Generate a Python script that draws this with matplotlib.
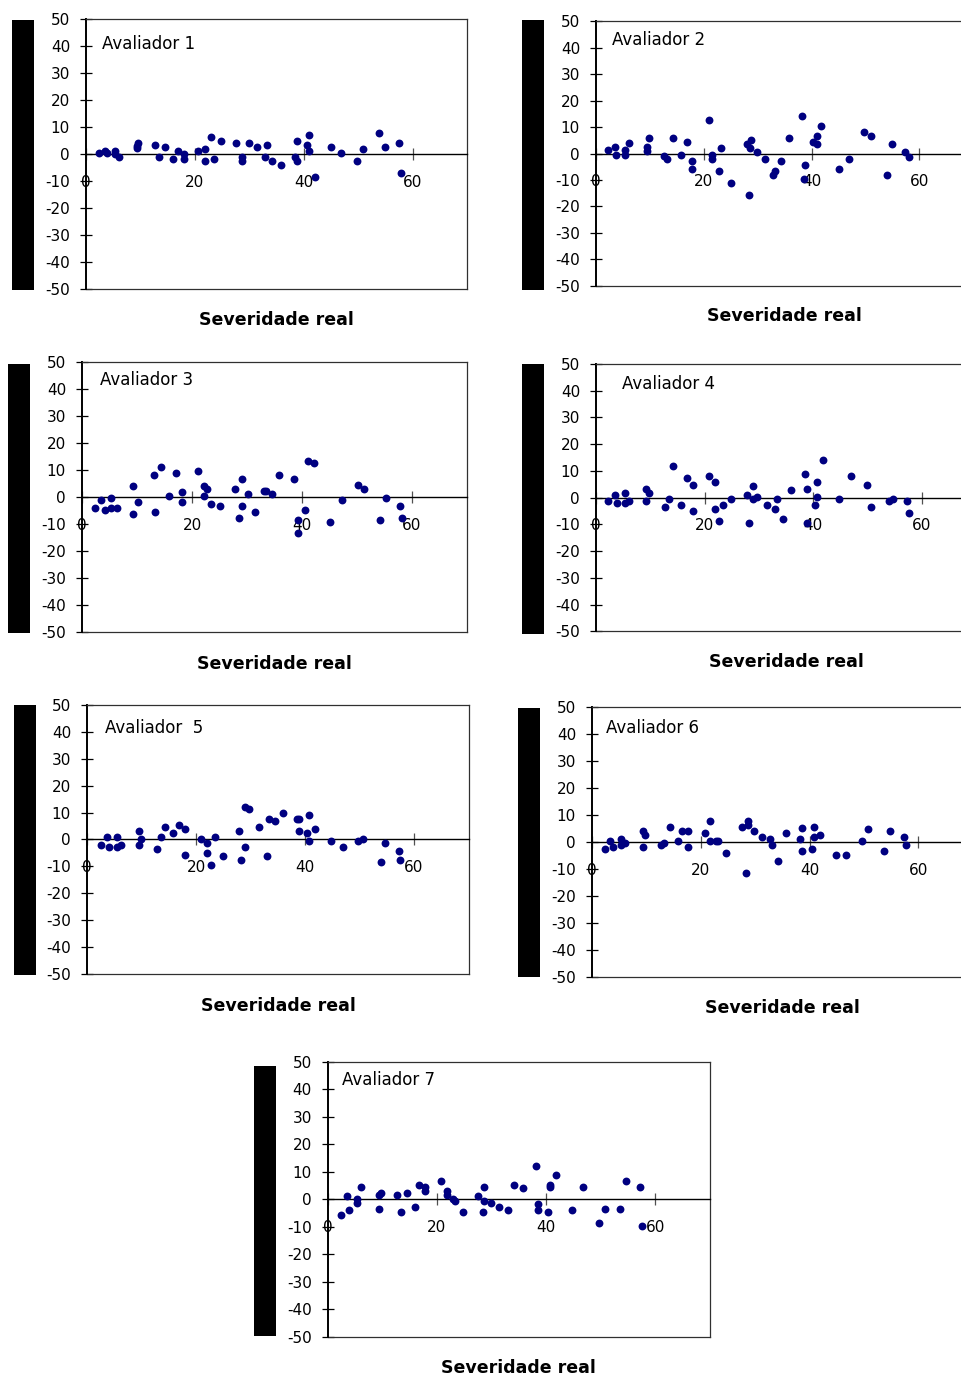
import matplotlib
matplotlib.use("Agg")
import matplotlib.pyplot as plt
from matplotlib.patches import Rectangle

# Severidade real (x) e diferença estimada - real (y), por avaliador
sev1 = [2.3, 3.5, 3.8, 5.3, 5.3, 6.1, 9.3, 9.4, 9.6, 12.7, 13.4, 14.5, 16.0, 16.8, 17.9, 17.9,
        20.6, 21.8, 21.8, 22.9, 23.4, 24.8, 27.6, 28.7, 28.7, 29.9, 31.3, 32.8, 33.2, 34.2, 35.7,
        38.3, 38.7, 38.8, 40.5, 40.9, 40.9, 42.0, 45.0, 46.8, 49.7, 50.8, 53.8, 54.9, 57.4, 57.8]
dif1 = [0.5, 1.2, 0.5, 1.2, 0.0, -1.1, 2.1, 3.0, 4.2, 3.3, -1.1, 2.6, -1.9, 1.2, 0.0, -1.9,
        1.2, 2.0, -2.6, 6.3, -1.9, 4.9, 4.2, -1.1, -2.6, 4.1, 2.6, -1.1, 3.3, -2.6, -4.1,
        -1.1, 4.9, -2.6, 3.3, 7.2, 1.2, -8.5, 2.6, 0.5, -2.6, 1.9, 7.9, 2.6, 4.1, -6.9]

sev2 = [2.3, 3.5, 3.8, 5.4, 5.4, 6.1, 9.4, 9.4, 9.8, 12.7, 13.1, 14.2, 15.8, 16.9, 17.9, 17.9,
        20.9, 21.6, 21.6, 23.1, 22.8, 25.0, 28.0, 28.8, 28.6, 28.3, 29.9, 31.4, 32.8, 33.3, 34.3,
        35.8, 38.3, 38.7, 38.5, 40.2, 41.0, 41.0, 41.7, 45.0, 46.9, 49.8, 51.0, 53.9, 55.0, 57.3, 58.0]
dif2 = [1.2, 2.6, -0.4, 1.2, -0.4, 4.1, 2.6, 1.0, 5.8, -0.9, -2.1, 5.8, -0.4, 4.2, -2.7, -5.8,
        12.6, -0.4, -2.1, 1.9, -6.7, -11.2, 3.5, 5.0, 2.2, -15.8, 0.4, -1.9, -8.1, -6.7, -2.8,
        5.8, 14.2, -4.2, -9.5, 4.2, 6.5, 3.5, 10.3, -5.8, -1.9, 8.1, 6.5, -8.1, 3.5, 0.4, -1.2]

sev3 = [2.4, 3.5, 4.2, 5.3, 5.3, 6.4, 9.3, 10.1, 9.3, 13.0, 14.4, 13.3, 15.9, 17.0, 18.1, 18.1,
        21.0, 22.1, 22.8, 22.1, 23.5, 25.0, 27.9, 29.0, 28.6, 29.0, 30.1, 31.5, 33.0, 33.4, 34.5,
        35.9, 38.5, 39.2, 39.2, 40.6, 41.0, 42.1, 45.0, 47.2, 50.1, 51.2, 54.1, 55.2, 57.8, 58.1]
dif3 = [-4.1, -1.2, -4.8, -0.5, -4.1, -4.1, 3.9, -1.9, -6.3, 8.2, 11.1, -5.5, 0.2, 8.9, 1.7, -1.9,
        9.6, 3.9, 3.1, 0.2, -2.7, -3.4, 3.1, 6.7, -7.7, -3.4, 1.0, -5.5, 2.4, 2.4, 1.0,
        8.2, 6.7, -8.4, -13.5, -4.8, 13.3, 12.5, -9.2, -1.2, 4.6, 3.1, -8.4, -0.5, -3.4, -7.7]

sev4 = [2.3, 3.5, 3.8, 5.3, 5.3, 6.1, 9.3, 9.8, 9.3, 12.7, 13.5, 14.1, 15.7, 16.8, 17.8, 17.8,
        20.8, 21.9, 21.9, 22.6, 23.3, 24.8, 27.8, 28.1, 28.9, 28.9, 29.6, 31.4, 32.9, 33.3, 34.4,
        35.9, 38.5, 38.8, 38.8, 40.3, 40.7, 40.7, 41.8, 44.7, 46.9, 49.9, 50.6, 53.9, 54.7, 57.2, 57.6]
dif4 = [-1.1, 1.1, -1.9, 1.9, -1.9, -1.1, 3.4, 1.9, -1.1, -3.4, -0.4, 11.8, -2.7, 7.2, 4.9, -4.9,
        8.0, 5.7, -4.2, -8.9, -2.7, -0.4, 1.1, -9.5, 4.2, -0.4, 0.4, -2.7, -4.2, -0.4, -8.0,
        2.7, 8.7, 3.4, -9.5, -2.7, 5.7, 0.4, 14.1, -0.4, 8.0, 4.9, -3.4, -1.1, -0.4, -1.1, -5.7]

sev5 = [2.6, 3.7, 4.0, 5.5, 5.5, 6.2, 9.5, 9.9, 9.5, 12.8, 13.6, 14.3, 15.8, 16.9, 18.0, 18.0,
        20.9, 22.0, 22.0, 22.7, 23.5, 24.9, 27.9, 28.2, 29.0, 29.0, 29.7, 31.5, 33.0, 33.4, 34.5,
        35.9, 38.5, 38.9, 38.9, 40.3, 40.7, 40.7, 41.8, 44.7, 46.9, 49.8, 50.6, 53.9, 54.6, 57.2, 57.5]
dif5 = [-2.0, 1.0, -2.7, 1.0, -2.7, -2.0, 3.2, 0.2, -2.0, -3.4, 1.0, 4.6, 2.4, 5.4, 3.9, -5.6,
        0.2, -1.2, -4.9, -9.3, 1.0, -6.3, 3.2, -7.8, -2.7, 12.0, 11.2, 4.6, -6.3, 7.6, 6.8,
        9.8, 7.6, 7.6, 3.2, 2.4, 9.0, -0.5, 3.9, -0.5, -2.7, -0.5, 0.2, -8.5, -1.2, -4.1, -7.8]

sev6 = [2.3, 3.4, 3.8, 5.3, 5.3, 6.0, 9.3, 9.7, 9.3, 12.6, 13.3, 14.4, 15.9, 16.6, 17.7, 17.7,
        20.7, 21.7, 21.7, 22.8, 23.2, 24.7, 27.6, 28.7, 28.7, 28.3, 29.8, 31.3, 32.7, 33.1, 34.2,
        35.7, 38.2, 38.6, 38.6, 40.4, 40.8, 40.8, 41.9, 44.8, 46.7, 49.6, 50.7, 53.6, 54.7, 57.3, 57.7]
dif6 = [-2.6, 0.4, -1.9, 1.1, -1.1, -0.4, 4.1, 2.6, -1.9, -1.1, -0.4, 5.6, 0.4, 4.1, 4.1, -1.9,
        3.3, 7.8, 0.4, 0.4, 0.4, -4.1, 5.6, 7.8, 6.3, -11.5, 4.1, 1.9, 1.1, -1.1, -7.0,
        3.3, 1.1, 5.2, -3.3, -2.6, 5.6, 1.9, 2.6, -4.8, -4.8, 0.4, 4.8, -3.3, 4.1, 1.9, -1.1]

sev7 = [2.4, 3.5, 3.9, 5.4, 5.4, 6.1, 9.4, 9.7, 9.4, 12.7, 13.4, 14.5, 16.0, 16.7, 17.8, 17.8,
        20.7, 21.8, 21.8, 22.9, 23.3, 24.7, 27.6, 28.4, 28.7, 28.7, 29.9, 31.3, 33.1, 34.2, 35.7,
        38.2, 38.6, 38.6, 40.4, 40.8, 40.8, 41.9, 44.8, 46.7, 49.6, 50.7, 53.6, 54.7, 57.2, 57.6]
dif7 = [-5.6, 1.0, -4.1, 0.2, -1.2, 4.6, 1.7, 2.4, -3.4, 1.7, -4.8, 2.4, -2.7, 5.3, 4.6, 3.1,
        6.8, 3.1, 1.7, 0.2, -0.5, -4.8, 1.0, -4.8, 4.6, -0.5, -1.2, -2.7, -4.1, 5.3, 3.9,
        11.9, -1.9, -4.1, -4.8, 5.3, 4.6, 8.9, -4.1, 4.6, -8.5, -3.4, -3.4, 6.8, 4.6, -9.9]

titles = ["Avaliador 1", "Avaliador 2", "Avaliador 3", "Avaliador 4",
          "Avaliador  5", "Avaliador 6", "Avaliador 7"]
xticks = [0, 20, 40, 60]
yticks = [50, 40, 30, 20, 10, 0, -10, -20, -30, -40, -50]
xlabel = "Severidade real"

series = [(sev1, dif1), (sev2, dif2), (sev3, dif3), (sev4, dif4),
          (sev5, dif5), (sev6, dif6), (sev7, dif7)]

# layout em pixels: esquerda, topo, base, px por unidade x
boxes = [(86, 19.3, 289, 5.45), (596, 21.3, 285.7, 5.39),
         (82, 362, 632, 5.5), (596, 364, 631.3, 5.43),
         (87, 705, 974, 5.45), (592, 707.3, 977.3, 5.44),
         (327.7, 1061.7, 1336.7, 5.46)]
title_off = [(16, 25), (16, 19), (18, 18), (26, 20), (18, 23), (14, 21), (14, 18)]
bars = [(12, 20, 34, 290), (522, 20, 544, 290), (8, 364, 30, 633), (522, 364, 544, 634),
        (14, 705, 36, 975), (518, 708, 540, 977), (254, 1066, 276, 1336)]
xlab_pos = [(276, 320), (784, 316), (274, 664), (786, 662), (278, 1006), (782, 1008), (518, 1368)]

W, H = 961, 1378
fig = plt.figure(figsize=(W / 100, H / 100), dpi=100)

for i in range(7):
    left, top, bottom, ppu = boxes[i]
    width = 70 * ppu
    ax = fig.add_axes([left / W, 1 - bottom / H, width / W, (bottom - top) / H])
    x, y = series[i]
    ax.scatter(x, y, s=32, color="#000080", linewidths=0, zorder=3, clip_on=False)
    ax.set_xlim(0, 70)
    ax.set_ylim(-50, 50)

    ax.spines["bottom"].set_position(("data", 0))
    ax.spines["bottom"].set_color("black")
    ax.spines["bottom"].set_linewidth(1.0)
    ax.spines["left"].set_color("black")
    ax.spines["left"].set_linewidth(1.4)
    for s in ["top", "right"]:
        ax.spines[s].set_color("#303030")
        ax.spines[s].set_linewidth(0.9)
    ax.axhline(-50, color="#303030", lw=0.9, clip_on=False)

    ax.set_xticks(xticks)
    ax.set_xticklabels([str(t) for t in xticks])
    ax.set_yticks(yticks)
    ax.set_yticklabels([str(t) for t in yticks])
    ax.tick_params(axis="x", direction="inout", length=8, width=0.9, color="#505050",
                   pad=11, labelsize=11)
    ax.tick_params(axis="y", direction="inout", length=8, width=0.9, color="black",
                   pad=7.5, labelsize=11)

    dx, dy = title_off[i]
    ax.annotate(titles[i], xy=(0, 1), xycoords="axes fraction",
                xytext=(dx * 0.72, -dy * 0.72), textcoords="offset points",
                ha="left", va="center", fontsize=12)

    bx0, by0, bx1, by1 = bars[i]
    fig.add_artist(Rectangle((bx0 / W, 1 - by1 / H), (bx1 - bx0) / W, (by1 - by0) / H,
                             transform=fig.transFigure, color="black", lw=0))

    cx, cy = xlab_pos[i]
    fig.text(cx / W, 1 - cy / H, xlabel, ha="center", va="center",
             fontsize=12.5, fontweight="bold")

fig.savefig("out.png", dpi=100)
